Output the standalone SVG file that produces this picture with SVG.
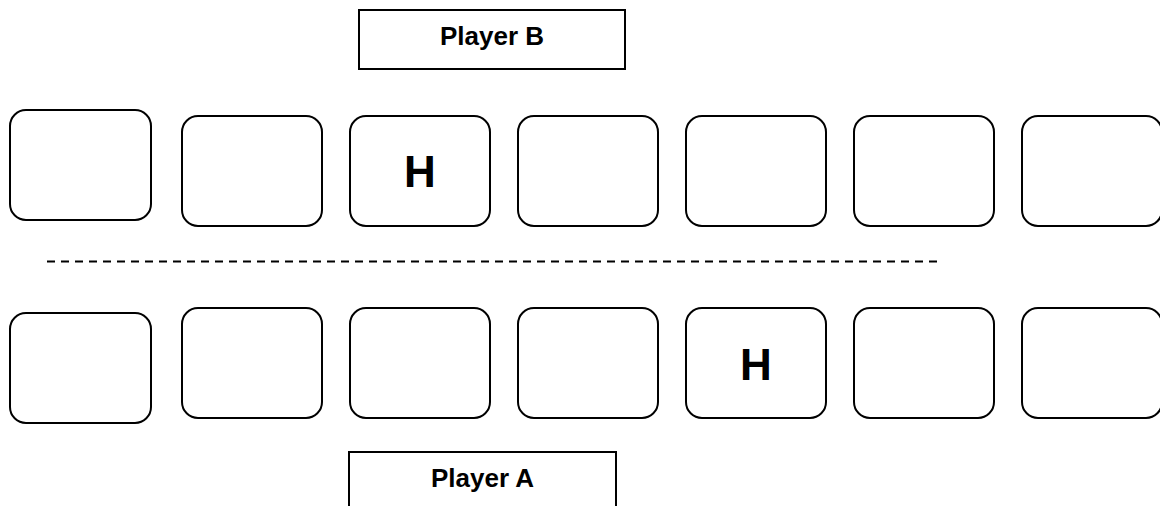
<svg xmlns="http://www.w3.org/2000/svg" width="1160" height="506" viewBox="0 0 1160 506">
<style>
.card{fill:#fff;stroke:#000;stroke-width:2}
.player{fill:#fff;stroke:#000;stroke-width:2}
.plabel{font-family:"Liberation Sans",Arial,sans-serif;font-weight:bold;font-size:26px;text-anchor:middle;fill:#000}
.h{font-family:"Liberation Sans",Arial,sans-serif;font-weight:bold;font-size:44px;text-anchor:middle;fill:#000}
.div{stroke:#000;stroke-width:2;stroke-dasharray:8 6;fill:none}
</style>
<rect width="1160" height="506" fill="#fff"/>
<g id="playerB"><rect class="player" x="359" y="10" width="266" height="59"/><text class="plabel" x="492" y="45">Player B</text></g>
<g id="top1"><rect class="card" x="10" y="110" width="141" height="110" rx="16"/></g>
<g id="top2"><rect class="card" x="182" y="116" width="140" height="110" rx="16"/></g>
<g id="top3"><rect class="card" x="350" y="116" width="140" height="110" rx="16"/><text class="h" x="420" y="187">H</text></g>
<g id="top4"><rect class="card" x="518" y="116" width="140" height="110" rx="16"/></g>
<g id="top5"><rect class="card" x="686" y="116" width="140" height="110" rx="16"/></g>
<g id="top6"><rect class="card" x="854" y="116" width="140" height="110" rx="16"/></g>
<g id="top7"><rect class="card" x="1022" y="116" width="140" height="110" rx="16"/></g>
<g id="connectors"><line class="div" x1="47" y1="261.5" x2="937" y2="261.5"/></g>
<g id="bot1"><rect class="card" x="10" y="313" width="141" height="110" rx="16"/></g>
<g id="bot2"><rect class="card" x="182" y="308" width="140" height="110" rx="16"/></g>
<g id="bot3"><rect class="card" x="350" y="308" width="140" height="110" rx="16"/></g>
<g id="bot4"><rect class="card" x="518" y="308" width="140" height="110" rx="16"/></g>
<g id="bot5"><rect class="card" x="686" y="308" width="140" height="110" rx="16"/><text class="h" x="756" y="380">H</text></g>
<g id="bot6"><rect class="card" x="854" y="308" width="140" height="110" rx="16"/></g>
<g id="bot7"><rect class="card" x="1022" y="308" width="140" height="110" rx="16"/></g>
<g id="playerA"><rect class="player" x="349" y="452" width="267" height="70"/><text class="plabel" x="482.5" y="487">Player A</text></g>
</svg>
